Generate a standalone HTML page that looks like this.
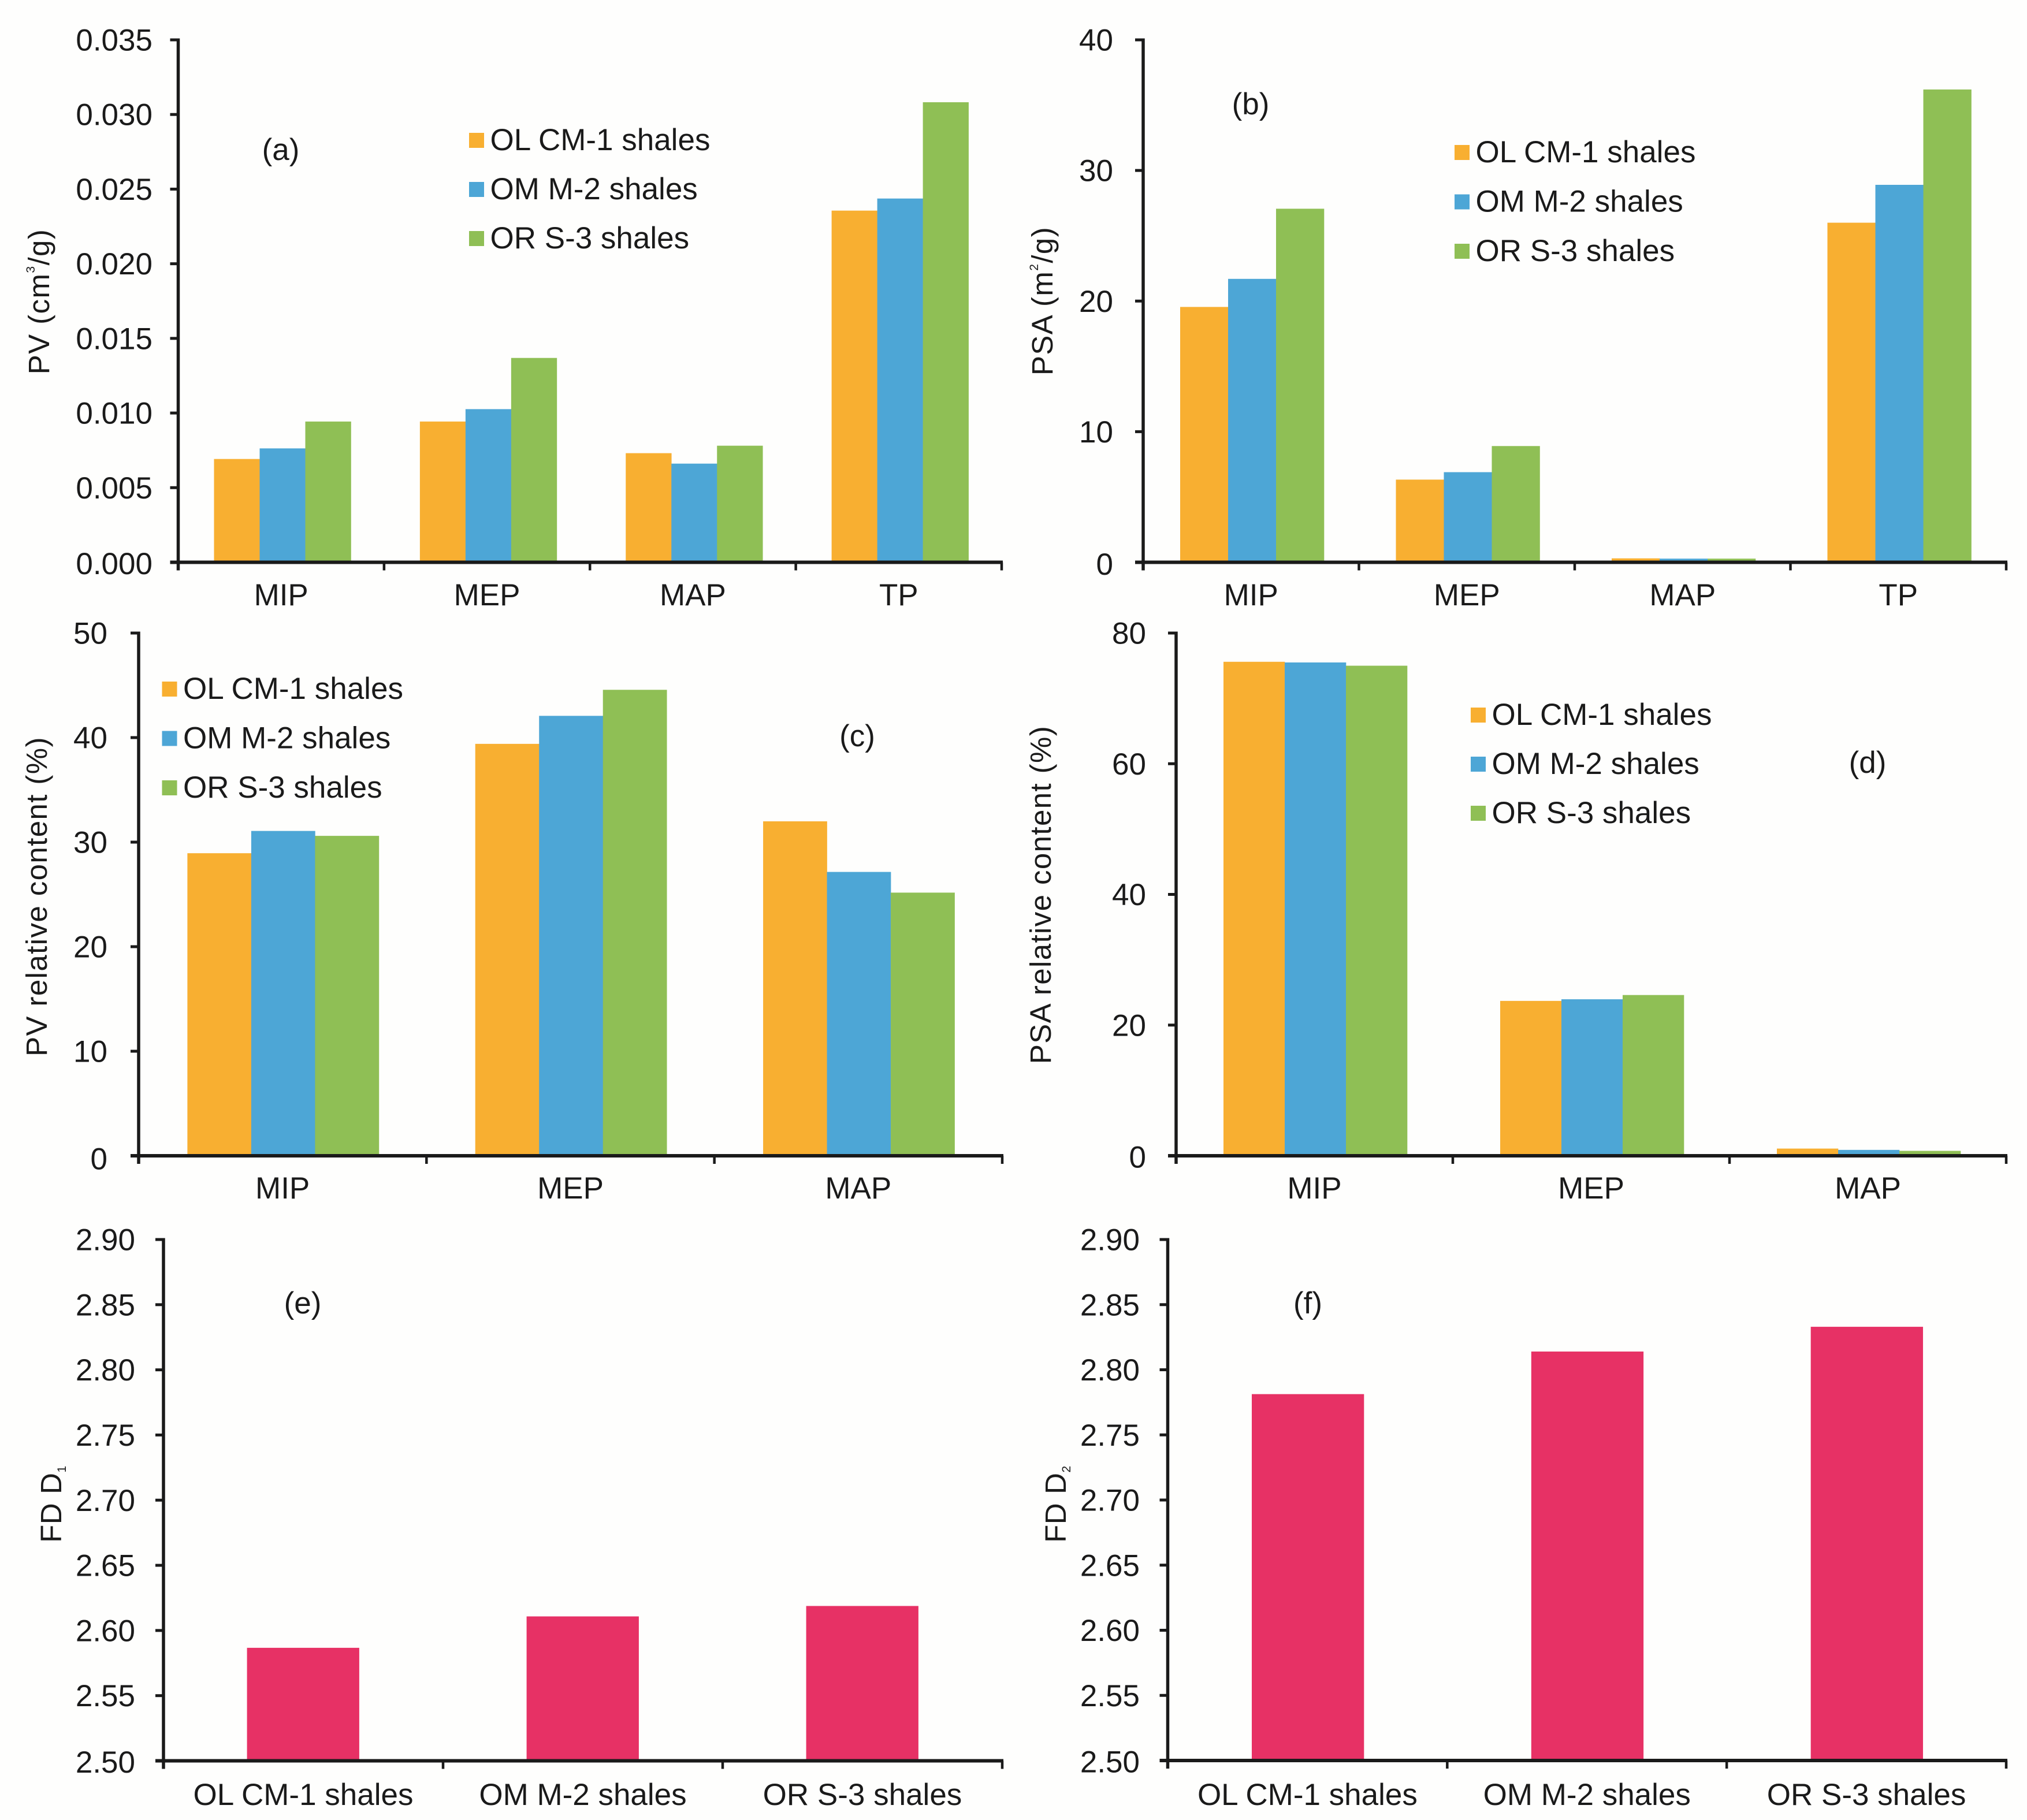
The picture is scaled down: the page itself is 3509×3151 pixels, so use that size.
<!DOCTYPE html>
<html>
<head>
<meta charset="utf-8">
<title>Shale pore structure bar charts</title>
<style>
html,body{margin:0;padding:0;background:#fefefd;}
svg{display:block;}
text{font-family:"Liberation Sans",Arial,sans-serif;fill:#1a1a1a;}
</style>
</head>
<body>
<svg id="figure" xmlns="http://www.w3.org/2000/svg" width="3509" height="3151" viewBox="0 0 3509 3151">
<rect x="0" y="0" width="3509" height="3151" fill="#fefefd"></rect>
</svg>
<script>
// ---- shared categories and labels ----
const poreCats4 = ['MIP', 'MEP', 'MAP', 'TP'];
const poreCats3 = ['MIP', 'MEP', 'MAP'];
const shaleCats = ['OL CM-1 shales', 'OM M-2 shales', 'OR S-3 shales'];
const seriesNames = ['OL CM-1 shales', 'OM M-2 shales', 'OR S-3 shales'];
const seriesColors = ['#f8af31', '#4da6d6', '#8fbf55'];

// ---- panel (a) PV ----
const aTicks = ['0.000', '0.005', '0.010', '0.015', '0.020', '0.025', '0.030', '0.035'];
const aOL = [0.00692, 0.00943, 0.00731, 0.02356];
const aOM = [0.00763, 0.01026, 0.00661, 0.02437];
const aOR = [0.00943, 0.01369, 0.00781, 0.03082];

// ---- panel (b) PSA ----
const bTicks = ['0', '10', '20', '30', '40'];
const bOL = [19.55, 6.33, 0.3, 26.0];
const bOM = [21.7, 6.9, 0.28, 28.9];
const bOR = [27.07, 8.9, 0.28, 36.2];

// ---- panel (c) PV relative content ----
const cTicks = ['0', '10', '20', '30', '40', '50'];
const cOL = [28.94, 39.4, 31.99];
const cOM = [31.07, 42.08, 27.15];
const cOR = [30.6, 44.57, 25.17];

// ---- panel (d) PSA relative content ----
const dTicks = ['0', '20', '40', '60', '80'];
const dOL = [75.6, 23.7, 1.1];
const dOM = [75.5, 23.95, 0.9];
const dOR = [75.0, 24.6, 0.75];

// ---- panel (e) D1 ----
const eTicks = ['2.50', '2.55', '2.60', '2.65', '2.70', '2.75', '2.80', '2.85', '2.90'];
const eD1 = [2.5867, 2.6108, 2.6188];

// ---- panel (f) D2 ----
const fTicks = ['2.50', '2.55', '2.60', '2.65', '2.70', '2.75', '2.80', '2.85', '2.90'];
const fD2 = [2.7813, 2.814, 2.833];

const svg = document.getElementById('figure');
const NS = 'http://www.w3.org/2000/svg';
const FONT = 53;
const INK = '#1a1a1a';

function mk(parent, tag, props) {
  const el = document.createElementNS(NS, tag);
  for (const k in props) el.setAttribute(k, props[k]);
  parent.appendChild(el);
  return el;
}

function drawPanel(p) {
  const g = mk(svg, 'g', {});
  
  

  const tickVals = p.ticks.map(Number);
  const vMin = tickVals[0];
  const vMax = tickVals[tickVals.length - 1];
  const yScale = v => p.y0 + (v - vMin) / (vMax - vMin) * (p.yT - p.y0);
  const catW = (p.xR - p.x0) / p.cats.length;
  const xScale = i => p.x0 + catW * i;

  // bars
  p.series.forEach((values, s) => {
    values.forEach((v, i) => {
      const top = yScale(v);
      const bar = mk(g, 'rect', {
        x: xScale(i) + p.offset + s * p.bw,
        y: top,
        width: p.bw + 0.3,
        height: p.y0 - top,
        fill: p.colors[s]
      });
      
      
    });
  });

  // y axis line
  const yAxis = mk(g, 'line', {x1: p.x0, x2: p.x0, y1: p.yT - 2.5, y2: p.y0 + 14, stroke: INK, 'stroke-width': 5.5});
  
  

  // x axis line
  const xAxis = mk(g, 'line', {x1: p.x0 - 14, x2: p.xR + 2, y1: p.y0, y2: p.y0, stroke: INK, 'stroke-width': 6});
  
  

  // y ticks and labels
  p.ticks.forEach((label, i) => {
    const y = yScale(tickVals[i]);
    const t = mk(g, 'line', {x1: p.x0 - 14, x2: p.x0, y1: y, y2: y, stroke: INK, 'stroke-width': 5});
    
    
    const lab = mk(g, 'text', {x: p.labelRight, y: y + 18.5 + (i === 0 ? p.zeroShift : 0), 'text-anchor': 'end', 'font-size': FONT});
    
    
    lab.textContent = label;
  });

  // x ticks and labels
  for (let i = 0; i <= p.cats.length; i++) {
    const x = xScale(i);
    const t = mk(g, 'line', {x1: x, x2: x, y1: p.y0, y2: p.y0 + 14, stroke: INK, 'stroke-width': 4.5});
    
    
  }
  p.cats.forEach((label, i) => {
    const lab = mk(g, 'text', {x: xScale(i) + catW / 2, y: p.xBase, 'text-anchor': 'middle', 'font-size': FONT});
    
    
    lab.textContent = label;
  });

  // axis title (rotated, lightly tracked like the reference)
  const title = mk(g, 'text', {
    transform: 'translate(' + p.title.x + ' ' + p.title.y + ') rotate(-90)',
    'text-anchor': 'middle',
    'font-size': 51,
    'letter-spacing': p.title.track,
    fill: '#2a2a2a'
  });
  
  
  const t1 = mk(title, 'tspan', {});
  t1.textContent = p.title.before;
  if (p.title.script) {
    const t2 = mk(title, 'tspan', {'font-size': 21, dy: p.title.shift});
    t2.textContent = p.title.script;
    if (p.title.after) {
      const t3 = mk(title, 'tspan', {dy: -p.title.shift});
      t3.textContent = p.title.after;
    }
  }

  // panel letter
  const letter = mk(g, 'text', {x: p.letter.x, y: p.letter.y + 17, 'text-anchor': 'middle', 'font-size': FONT});
  
  
  letter.textContent = p.letter.text;

  // legend
  if (p.legend) {
    const legend = mk(g, 'g', {});
    
    
    seriesNames.forEach((name, s) => {
      const cy = p.legend.y + s * p.legend.step;
      const sw = mk(legend, 'rect', {x: p.legend.x + 1, y: cy - 13, width: 26, height: 26, fill: seriesColors[s]});
      
      
      const lab = mk(legend, 'text', {x: p.legend.x + 37.5, y: cy + 17, 'font-size': FONT});
      
      
      lab.textContent = name;
    });
  }
}

drawPanel({
  id: 'a', cats: poreCats4, ticks: aTicks, series: [aOL, aOM, aOR], colors: seriesColors,
  x0: 308.5, xR: 1734, y0: 973.5, yT: 69, offset: 62, bw: 79, labelRight: 264, xBase: 1048, zeroShift: 2,
  title: {x: 85, y: 522, track: 1.4, before: 'PV (cm', script: '3', after: '/g)', shift: -25},
  letter: {x: 486, y: 260, text: '(a)'},
  legend: {x: 811, y: 243, step: 85}
});
drawPanel({
  id: 'b', cats: poreCats4, ticks: bTicks, series: [bOL, bOM, bOR], colors: seriesColors,
  x0: 1979, xR: 3473, y0: 973.5, yT: 69, offset: 64, bw: 83, labelRight: 1927, xBase: 1048, zeroShift: 3,
  title: {x: 1822, y: 521, track: 1.4, before: 'PSA (m', script: '2', after: '/g)', shift: -25},
  letter: {x: 2165, y: 181, text: '(b)'},
  legend: {x: 2517, y: 264, step: 85.5}
});
drawPanel({
  id: 'c', cats: poreCats3, ticks: cTicks, series: [cOL, cOM, cOR], colors: seriesColors,
  x0: 240, xR: 1735, y0: 2001, yT: 1096, offset: 84.4, bw: 110.5, labelRight: 186, xBase: 2075, zeroShift: 5,
  title: {x: 81, y: 1552, track: 1.4, before: 'PV relative content (%)'},
  letter: {x: 1484, y: 1275, text: '(c)'},
  legend: {x: 279.5, y: 1193, step: 85.5}
});
drawPanel({
  id: 'd', cats: poreCats3, ticks: dTicks, series: [dOL, dOM, dOR], colors: seriesColors,
  x0: 2036, xR: 3473, y0: 2001, yT: 1096, offset: 82, bw: 106, labelRight: 1984, xBase: 2075, zeroShift: 2,
  title: {x: 1819, y: 1549, track: 1.4, before: 'PSA relative content (%)'},
  letter: {x: 3233, y: 1321, text: '(d)'},
  legend: {x: 2545, y: 1238, step: 85}
});
drawPanel({
  id: 'e', cats: shaleCats, ticks: eTicks, series: [eD1], colors: ['#e73165'],
  x0: 283, xR: 1735, y0: 3048.5, yT: 2146, offset: 144.6, bw: 194, labelRight: 234, xBase: 3125, zeroShift: 2,
  title: {x: 106, y: 2604, track: 0.6, before: 'FD D', script: '1', shift: 8},
  letter: {x: 524, y: 2257, text: '(e)'}
});
drawPanel({
  id: 'f', cats: shaleCats, ticks: fTicks, series: [fD2], colors: ['#e73165'],
  x0: 2021.5, xR: 3473, y0: 3048, yT: 2146, offset: 145.5, bw: 194, labelRight: 1973, xBase: 3125, zeroShift: 2,
  title: {x: 1845, y: 2604, track: 0.6, before: 'FD D', script: '2', shift: 8},
  letter: {x: 2264, y: 2257, text: '(f)'}
});
</script>
</body>
</html>
